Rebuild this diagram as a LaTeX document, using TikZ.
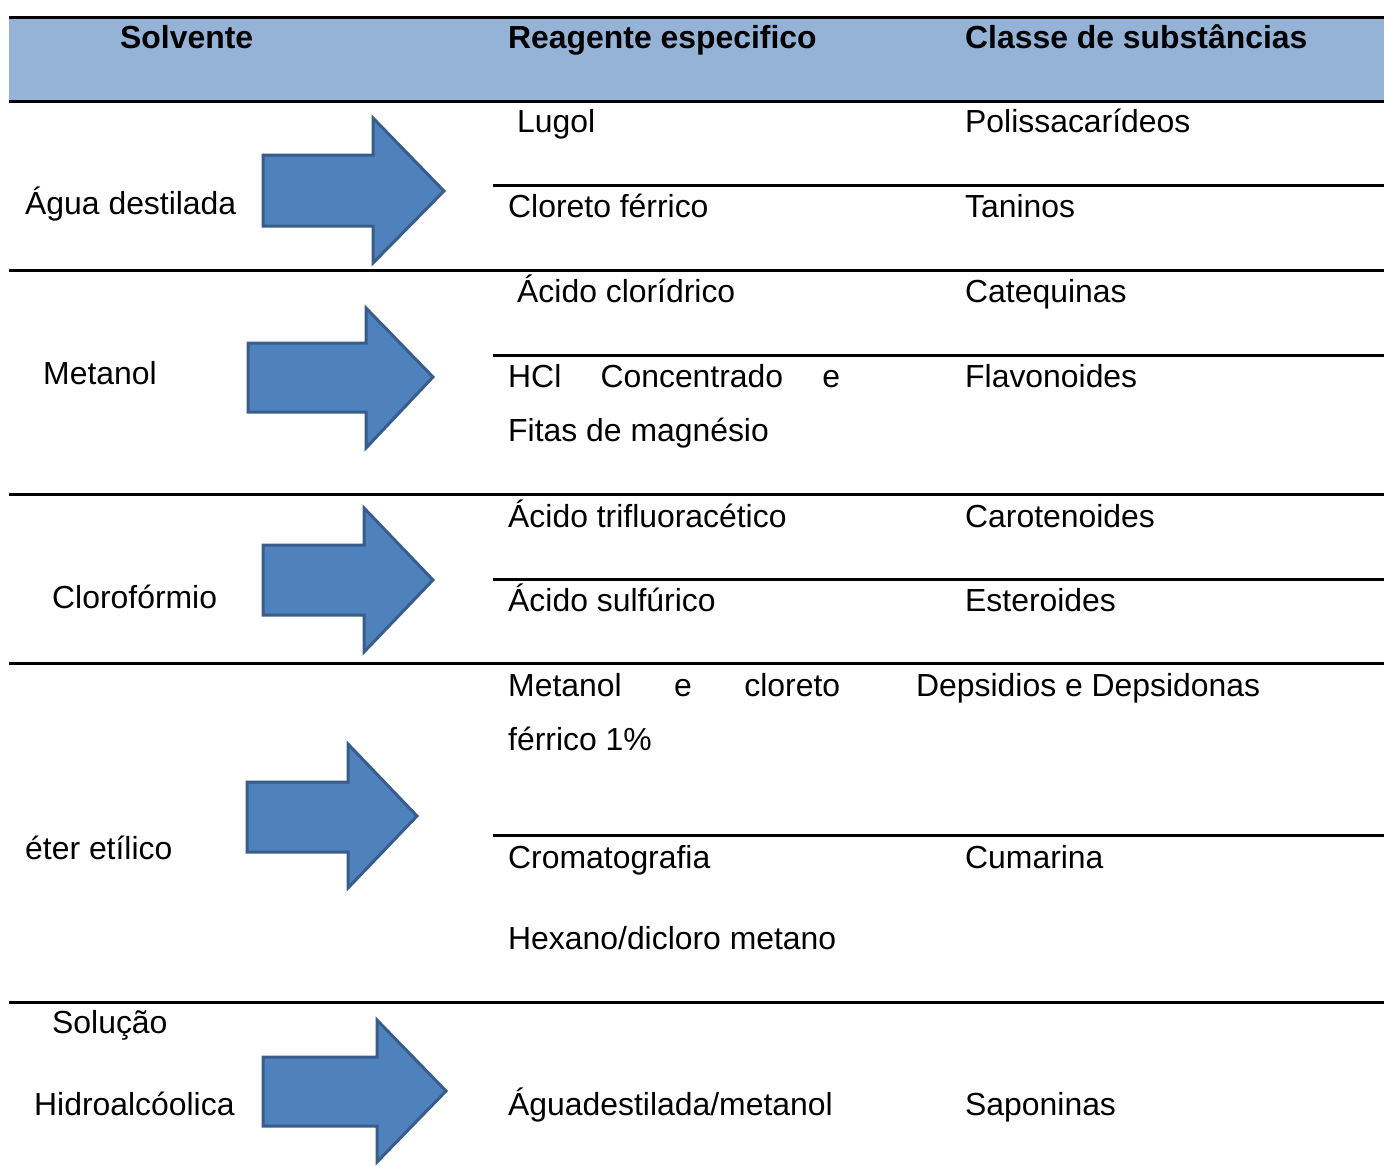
\documentclass[tikz,border=0pt]{standalone}
\usepackage{fontspec}
\setmainfont{Liberation Sans}
\definecolor{hdrblue}{HTML}{95B3D7}
\definecolor{arrfill}{HTML}{4F81BD}
\definecolor{arrline}{HTML}{385D8A}
\newcommand{\blarrow}[8]{%
  \draw[arrowshape] (#1,#4) -- (#2,#4) -- (#2,#6) -- (#3,#8) -- (#2,#7) -- (#2,#5) -- (#1,#5) -- cycle;}
\begin{document}
\begin{tikzpicture}[x=1pt,y=-1pt,
  txt/.style={anchor=base west,inner sep=0pt,font=\fontsize{31.9}{36}\selectfont},
  hdr/.style={txt,font=\fontsize{31.9}{36}\selectfont\bfseries},
  rule/.style={line width=3pt,black},
  arrowshape/.style={fill=arrfill,draw=arrline,line width=3pt,line join=miter}]
\useasboundingbox (0,0) rectangle (1384,1165);
% header band
\fill[hdrblue] (9,17) rectangle (1384,101);
\draw[rule] (9,17) -- (1384,17);
\draw[rule] (9,101) -- (1384,101);
\node[hdr] (h1) at (120,48) {Solvente};
\node[hdr] (h2) at (508,48) {Reagente especifico};
\node[hdr] (h3) at (965,48) {Classe de substâncias};
% row separators
\draw[rule] (9,270) -- (1384,270);
\draw[rule] (9,494) -- (1384,494);
\draw[rule] (9,663) -- (1384,663);
\draw[rule] (9,1002) -- (1384,1002);
% inner separators
\draw[rule] (493,185) -- (1384,185);
\draw[rule] (493,355) -- (1384,355);
\draw[rule] (493,579) -- (1384,579);
\draw[rule] (493,835) -- (1384,835);
% arrows
\blarrow{263}{373}{444}{155}{226}{118}{263}{191}
\blarrow{248}{366}{433}{343}{412}{308}{448}{377}
\blarrow{263}{364}{433}{545}{615}{508}{652}{580}
\blarrow{247}{348}{417}{782}{852}{744}{888}{816}
\blarrow{263}{377}{446}{1057}{1126}{1020}{1162}{1091}
% row 1
\node[txt] (s1) at (25,214) {Água destilada};
\node[txt] (r1a) at (517,132) {Lugol};
\node[txt] (c1a) at (965,132) {Polissacarídeos};
\node[txt] (r1b) at (508,217) {Cloreto férrico};
\node[txt] (c1b) at (965,217) {Taninos};
% row 2
\node[txt] (s2) at (43,384) {Metanol};
\node[txt] (r2a) at (517,302) {Ácido clorídrico};
\node[txt] (c2a) at (965,302) {Catequinas};
\node[txt] (r2b) at (508,387) {\makebox[332pt][s]{HCl Concentrado e}};
\node[txt] (r2c) at (508,441) {Fitas de magnésio};
\node[txt] (c2b) at (965,387) {Flavonoides};
% row 3
\node[txt] (s3) at (52,608) {Clorofórmio};
\node[txt] (r3a) at (508,527) {Ácido trifluoracético};
\node[txt] (c3a) at (965,527) {Carotenoides};
\node[txt] (r3b) at (508,611) {Ácido sulfúrico};
\node[txt] (c3b) at (965,611) {Esteroides};
% row 4
\node[txt] (s4) at (25,859) {éter etílico};
\node[txt] (r4a) at (508,696) {\makebox[332pt][s]{Metanol e cloreto}};
\node[txt] (r4b) at (508,750) {férrico 1\%};
\node[txt] (c4a) at (916,696) {Depsidios e Depsidonas};
\node[txt] (r4c) at (508,868) {Cromatografia};
\node[txt] (r4d) at (508,949) {Hexano/dicloro metano};
\node[txt] (c4b) at (965,868) {Cumarina};
% row 5
\node[txt] (s5a) at (52,1033) {Solução};
\node[txt] (s5b) at (34,1115) {Hidroalcóolica};
\node[txt] (r5) at (508,1115) {Águadestilada/metanol};
\node[txt] (c5) at (965,1115) {Saponinas};
\end{tikzpicture}
\end{document}
